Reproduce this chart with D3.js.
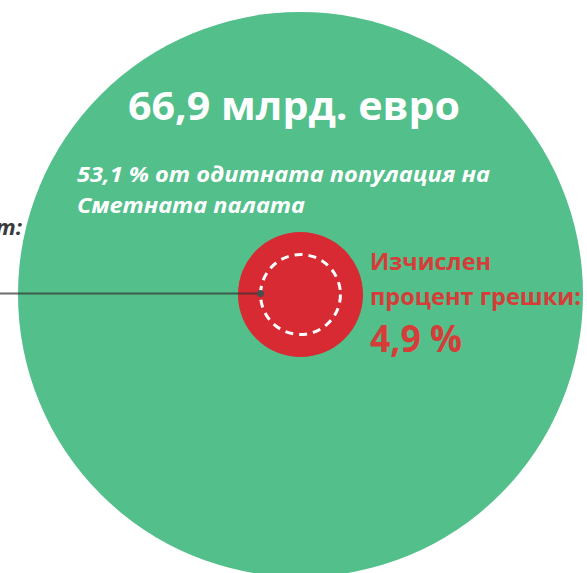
<!DOCTYPE html>
<html><head><meta charset="utf-8">
<script src="https://cdn.jsdelivr.net/npm/d3@7"></script>
<style>html,body{margin:0;padding:0;background:#fff;overflow:hidden}svg{display:block}text{font-family:"Open Sans","Noto Sans",sans-serif}</style>
</head><body><div id="chart"></div>
<script>
// Data
const populationTotal = "66,9 млрд. евро";
const populationShare = ["53,1 % от одитната популация на", "Сметната палата"];
const circleCategories = ["population", "errorRate", "materiality"];
const circleValues = [100, 4.9, 2];           // % of audited population (area)
const errorLabel = ["Изчислен", "процент грешки:", "4,9 %"];
const materialityLabel = ["Праг на същественост:"];

const W = 587, H = 573;
const svg = d3.select("#chart").append("svg").attr("width", W).attr("height", H);

const cx = 300.5, cy = 294.5;
const r = d3.scaleSqrt().domain([0, 100]).range([0, 282.5]);

// big population circle
svg.append("circle").attr("cx", cx).attr("cy", cy).attr("r", r(circleValues[0])).attr("fill", "#53c08c");

// error circle
svg.append("circle").attr("cx", cx).attr("cy", cy).attr("r", r(circleValues[1])).attr("fill", "#d72a33");

// materiality dashed circle
svg.append("circle").attr("cx", cx).attr("cy", cy).attr("r", r(circleValues[2]))
  .attr("fill", "none").attr("stroke", "#fff").attr("stroke-width", 3).attr("stroke-dasharray", "8,6");

// leader line to materiality circle
const dotX = cx - r(circleValues[2]);
svg.append("line").attr("x1", -5).attr("x2", dotX).attr("y1", cy - 1).attr("y2", cy - 1)
  .attr("stroke", "#333").attr("stroke-opacity", 0.72).attr("stroke-width", 2);
svg.append("circle").attr("cx", dotX).attr("cy", cy - 1).attr("r", 3.5).attr("fill", "#4a4f4d");

function txt(x, y, size, str, len, opts = {}) {
  const t = svg.append("text").attr("x", x).attr("y", y).attr("font-size", size)
    .attr("font-weight", 700).attr("fill", opts.fill || "#fff").text(str);
  if (opts.italic) t.attr("font-style", "italic");
  if (opts.anchor) t.attr("text-anchor", opts.anchor);
  if (len) t.attr("textLength", len).attr("lengthAdjust", "spacingAndGlyphs");
  return t;
}

// title
txt(128, 120, 40, populationTotal, 332);

// subtitle
txt(77, 182, 22, populationShare[0], 413, { italic: true });
txt(77, 213, 22, populationShare[1], 228, { italic: true });

// error label
const red = "#d63c38";
txt(370, 270, 22.5, errorLabel[0], 121, { fill: red });
txt(370, 305, 22.5, errorLabel[1], 211, { fill: red });
txt(370, 352, 38, errorLabel[2], 92, { fill: red });

// materiality label (mostly outside view, as in the original)
txt(22, 235, 22, materialityLabel[0], null, { italic: true, anchor: "end", fill: "#3a3a3a" });
</script></body></html>
